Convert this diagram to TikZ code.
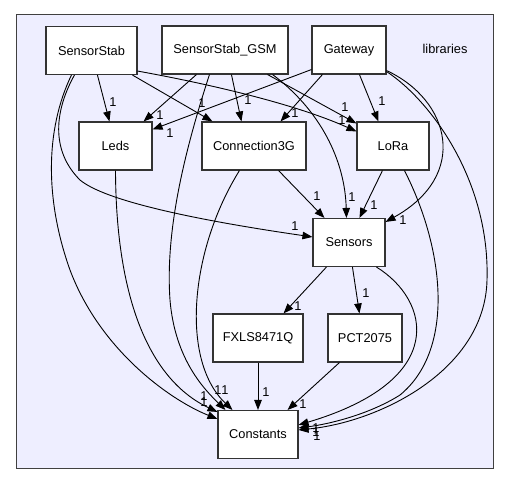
\documentclass[tikz,border=0pt]{standalone}
\usepackage{fontspec}
\setmainfont{Liberation Sans}
\usetikzlibrary{arrows.meta,calc}
\definecolor{clusterfill}{HTML}{EEEEFF}
\definecolor{clusterdraw}{HTML}{404040}
\definecolor{boxdraw}{HTML}{333333}
\tikzset{
  dirbox/.style={draw=boxdraw,line width=1.1bp,fill=white,rectangle,inner sep=0pt,minimum height=48bp,font=\fontsize{12.8bp}{15bp}\selectfont},
  edge/.style={draw=black,line width=0.9bp,-{Triangle[length=10bp,width=7.5bp]}},
  lbl/.style={inner sep=0pt,font=\fontsize{12.8bp}{15bp}\selectfont},
}
\begin{document}
\begin{tikzpicture}[x=1bp,y=-1bp]
\useasboundingbox (0,0) rectangle (509,485);
\fill[white] (0,0) rectangle (509,485);
\draw[fill=clusterfill,draw=clusterdraw,line width=1bp] (16,15) rectangle (493,468);
\node[lbl] (libs) at (445,49) {libraries};
% nodes
\node[dirbox,minimum width=91bp] (SS) at (91.5,50.5) {SensorStab};
\node[dirbox,minimum width=126bp] (GSM) at (225,50) {SensorStab\_GSM};
\node[dirbox,minimum width=74bp] (GW) at (349,50) {Gateway};
\node[dirbox,minimum width=73bp] (Leds) at (115.5,146) {Leds};
\node[dirbox,minimum width=104bp] (C3G) at (254,146) {Connection3G};
\node[dirbox,minimum width=72bp] (LoRa) at (393,146) {LoRa};
\node[dirbox,minimum width=72bp] (Sens) at (349,242.5) {Sensors};
\node[dirbox,minimum width=90bp] (FX) at (258,338) {FXLS8471Q};
\node[dirbox,minimum width=74bp] (PCT) at (365,338) {PCT2075};
\node[dirbox,minimum width=80bp] (Con) at (258,434.5) {Constants};
% edges
\draw[edge] ($(SS.south west)+(52,0)$) -- ($(Leds.north west)+(31,0)$);
\draw[edge] ($(SS.south west)+(87,0)$) -- ($(C3G.north west)+(11,0)$);
\draw[edge] ($(SS.south east)+(0,-4)$) .. controls (220,86) and (300,106) .. ($(LoRa.north west)+(0,10)$);
\draw[edge] ($(SS.south west)+(29,0)$) .. controls (55,110) and (50,150) .. (80,180) .. controls (110,205) and (230,225) .. ($(Sens.north west)+(0,19)$);
\draw[edge] ($(SS.south west)+(26,0)$) .. controls (45,130) and (45,200) .. (70,270) .. controls (100,350) and (170,400) .. ($(Con.north west)+(0,9)$);
\draw[edge] (Leds.south) .. controls (116,300) and (150,380) .. ($(Con.north west)+(0,2)$);
\draw[edge] ($(GSM.south west)+(35,0)$) -- ($(Leds.north east)+(-9,0)$);
\draw[edge] ($(GSM.south west)+(48,0)$) .. controls (185,150) and (165,230) .. (170,300) .. controls (175,360) and (205,390) .. ($(Con.north west)+(8,0)$);
\draw[edge] ($(GSM.south west)+(70,0)$) -- ($(C3G.north west)+(40,0)$);
\draw[edge] ($(GSM.south east)+(-21,0)$) -- ($(LoRa.north west)+(0,2)$);
\draw[edge] ($(GSM.south east)+(-16,0)$) .. controls (320,110) and (345,160) .. ($(Sens.north west)+(34,0)$);
\draw[edge] ($(GW.south west)+(0,-5)$) -- ($(Leds.north east)+(0,8)$);
\draw[edge] ($(GW.south west)+(11,0)$) -- ($(C3G.north east)+(-26,0)$);
\draw[edge] ($(GW.south west)+(48,0)$) -- ($(LoRa.north west)+(22,0)$);
\draw[edge] ($(GW.south east)+(0,-4)$) .. controls (450,100) and (470,175) .. ($(Sens.north east)+(0,4)$);
\draw[edge] ($(GW.south east)+(0,-3)$) .. controls (430,100) and (490,180) .. (487,280) .. controls (485,370) and (380,422) .. ($(Con.north east)+(0,20)$);
\draw[edge] ($(C3G.south east)+(-28,0)$) -- ($(Sens.north west)+(12,0)$);
\draw[edge] ($(C3G.south west)+(38,0)$) .. controls (190,250) and (180,360) .. ($(Con.north west)+(15,0)$);
\draw[edge] ($(LoRa.south west)+(26,0)$) -- ($(Sens.north west)+(47,0)$);
\draw[edge] ($(LoRa.south west)+(48,0)$) .. controls (445,250) and (455,350) .. (400,395) .. controls (370,414) and (330,424) .. ($(Con.north east)+(0,18)$);
\draw[edge] ($(Sens.south west)+(64,0)$) .. controls (430,300) and (450,380) .. ($(Con.north east)+(0,15)$);
\draw[edge] ($(Sens.south west)+(14,0)$) -- ($(FX.north east)+(-20,0)$);
\draw[edge] ($(Sens.south west)+(40,0)$) -- ($(PCT.north west)+(32,0)$);
\draw[edge] (FX.south) -- (Con.north);
\draw[edge] ($(PCT.south west)+(12,0)$) -- ($(Con.north east)+(-11,0)$);
% labels
\node[lbl] (l1) at (113,102) {1};
\node[lbl] (l2) at (202,103) {1};
\node[lbl] (l3) at (342,120) {1};
\node[lbl] (l4) at (295,226) {1};
\node[lbl] (l5) at (204,402) {1};
\node[lbl] (l6) at (204,396) {1};
\node[lbl] (l7) at (160,115) {1};
\node[lbl] (l8) at (218,390) {1};
\node[lbl] (l9) at (248,100) {1};
\node[lbl] (l10) at (345,107) {1};
\node[lbl] (l11) at (352,197) {1};
\node[lbl] (l12) at (170,133) {1};
\node[lbl] (l13) at (295,113) {1};
\node[lbl] (l14) at (382,101) {1};
\node[lbl] (l15) at (403,220) {1};
\node[lbl] (l16) at (317,436) {1};
\node[lbl] (l17) at (317,196) {1};
\node[lbl] (l18) at (225,390) {1};
\node[lbl] (l19) at (374,205) {1};
\node[lbl] (l20) at (316,432) {1};
\node[lbl] (l21) at (316,428) {1};
\node[lbl] (l22) at (298,306) {1};
\node[lbl] (l23) at (366,293) {1};
\node[lbl] (l24) at (266,392) {1};
\node[lbl] (l25) at (303,404) {1};
\end{tikzpicture}
\end{document}
